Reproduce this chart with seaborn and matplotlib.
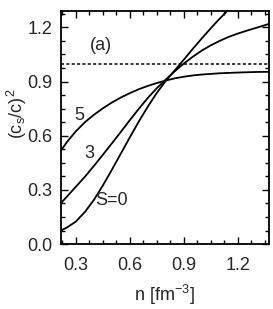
import matplotlib
matplotlib.use("Agg")
import matplotlib.pyplot as plt
import seaborn as sns
import pandas as pd
from matplotlib.ticker import MultipleLocator, FormatStrFormatter

sns.set_theme(style="ticks")
plt.rcParams['font.family'] = ['Liberation Sans', 'DejaVu Sans']
plt.rcParams['mathtext.fontset'] = 'custom'
plt.rcParams['mathtext.rm'] = 'Liberation Sans'
plt.rcParams['mathtext.it'] = 'Liberation Sans'

n_s0 = [0.215, 0.25, 0.30, 0.35, 0.40, 0.45, 0.50, 0.55, 0.60, 0.65, 0.70, 0.75,
        0.80, 0.85, 0.90, 0.95, 1.00, 1.05, 1.10, 1.16]
cs_s0 = [0.074, 0.092, 0.125, 0.178, 0.245, 0.325, 0.412, 0.502, 0.592, 0.680,
         0.762, 0.838, 0.905, 0.963, 1.022, 1.082, 1.140, 1.196, 1.250, 1.310]

n_s3 = [0.215, 0.25, 0.30, 0.35, 0.40, 0.45, 0.50, 0.55, 0.60, 0.65, 0.70, 0.75,
        0.80, 0.85, 0.90, 0.95, 1.00, 1.05, 1.10, 1.15, 1.20, 1.25, 1.30, 1.372]
cs_s3 = [0.225, 0.263, 0.318, 0.373, 0.433, 0.495, 0.558, 0.622, 0.687, 0.750,
         0.810, 0.864, 0.912, 0.958, 1.000, 1.038, 1.072, 1.101, 1.126, 1.148,
         1.166, 1.182, 1.197, 1.219]

n_s5 = [0.215, 0.25, 0.30, 0.35, 0.40, 0.45, 0.50, 0.55, 0.60, 0.65, 0.70, 0.75,
        0.80, 0.85, 0.90, 0.95, 1.00, 1.10, 1.20, 1.30, 1.372]
cs_s5 = [0.515, 0.565, 0.625, 0.675, 0.716, 0.752, 0.784, 0.812, 0.836, 0.858,
         0.876, 0.892, 0.906, 0.918, 0.927, 0.934, 0.939, 0.946, 0.950, 0.953, 0.954]

causal_limit = 1.0

fig = plt.figure(figsize=(2.73, 3.09), dpi=100)
ax = fig.add_axes([0.222, 0.21, 0.763, 0.754])

for xs, ys in [(n_s0, cs_s0), (n_s3, cs_s3), (n_s5, cs_s5)]:
    df = pd.DataFrame({"n": xs, "cs": ys})
    sns.lineplot(data=df, x="n", y="cs", ax=ax, color="black", linewidth=1.3)

ax.axhline(causal_limit, color="black", linestyle=(0, (2, 1.5)), linewidth=1.1)

ax.set_xlim(0.215, 1.372)
ax.set_ylim(0.0, 1.29)
ax.xaxis.set_major_locator(MultipleLocator(0.3))
ax.xaxis.set_minor_locator(MultipleLocator(0.075))
ax.yaxis.set_major_locator(MultipleLocator(0.3))
ax.yaxis.set_minor_locator(MultipleLocator(0.075))
ax.xaxis.set_major_formatter(FormatStrFormatter('%.1f'))
ax.yaxis.set_major_formatter(FormatStrFormatter('%.1f'))
ax.tick_params(which='both', direction='in', top=True, right=True, color='black')
ax.tick_params(which='major', length=5, width=1, labelsize=13)
ax.tick_params(axis='x', which='major', pad=9)
ax.tick_params(axis='y', which='major', pad=6)
ax.tick_params(which='minor', length=3, width=1)
for s in ax.spines.values():
    s.set_linewidth(1.3)
    s.set_color('black')

ax.set_xlabel(r"n [fm$^{-3}$]", fontsize=13)
ax.set_ylabel(r"(c$_s$/c)$^2$", fontsize=13)
ax.xaxis.set_label_coords(0.5, -0.165)
ax.yaxis.set_label_coords(-0.15, 0.56)

ax.text(0.44, 1.10, "(a)", fontsize=13, ha='center', va='center')
ax.text(0.32, 0.713, "5", fontsize=13, ha='center', va='center')
ax.text(0.376, 0.50, "3", fontsize=13, ha='center', va='center')
ax.text(0.5, 0.243, "S=0", fontsize=13, ha='center', va='center')

fig.savefig("out.png", dpi=100)
